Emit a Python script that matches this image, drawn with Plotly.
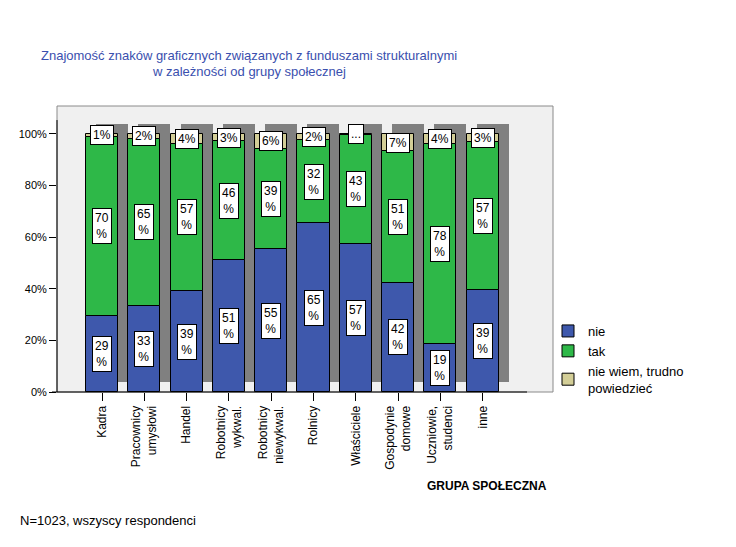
import plotly.graph_objects as go

# ---------------- data ----------------
categories = ["Kadra", "Pracownicy<br>umysłowi", "Handel", "Robotnicy<br>wykwal.",
              "Robotnicy<br>niewykwal.", "Rolnicy", "Właściciele", "Gospodynie<br>domowe",
              "Uczniowie,<br>studenci", "inne"]
nie = [29.4, 33.3, 39.1, 51.2, 55.4, 65.4, 57.2, 42.4, 18.7, 39.4]
tak = [69.6, 64.8, 57.2, 46.0, 38.8, 32.2, 42.6, 50.9, 77.6, 57.4]
nie_wiem = [1.0, 1.9, 3.7, 2.8, 5.8, 2.4, 0.2, 6.7, 3.7, 3.2]
series_names = ["nie", "tak", "nie wiem, trudno<br>powiedzieć"]
y_ticks = [0, 20, 40, 60, 80, 100]

# ---------------- style ----------------
colors = ["#3e58ac", "#2eb848", "#d3ce97"]
FONT = "Liberation Sans, Arial, sans-serif"
W = 0.757          # bar width (category units)
SHDX = 0.236       # shadow x shift (category units)
SHDY = 3.9         # shadow y shift (percent units)

n = len(categories)
xs = list(range(n))
totals = [a + b + c for a, b, c in zip(nie, tak, nie_wiem)]
base_tak = nie[:]
base_nw = [a + b for a, b in zip(nie, tak)]

fig = go.Figure()
# drop shadow
fig.add_bar(x=xs, y=totals, base=[SHDY] * n, width=W, offset=-W / 2 + SHDX,
            marker=dict(color="#808080", line=dict(width=0)), showlegend=False,
            hoverinfo="skip")
for vals, base, col, name in [(nie, [0] * n, colors[0], series_names[0]),
                              (tak, base_tak, colors[1], series_names[1]),
                              (nie_wiem, base_nw, colors[2], series_names[2])]:
    fig.add_bar(x=xs, y=vals, base=base, width=W, offset=-W / 2, name=name,
                marker=dict(color=col, line=dict(color="#000000", width=1)))

annotations = []
for i in xs:
    for vals, base, two_line in [(nie, [0] * n, True), (tak, base_tak, True),
                                 (nie_wiem, base_nw, False)]:
        v = vals[i]
        if two_line:
            txt = f"{v:.0f}<br>%"
        else:
            txt = f"{v:.0f}%" if v >= 0.5 else "..."
        annotations.append(dict(x=i, y=base[i] + v / 2, xref="x", yref="y", text=txt,
                                showarrow=False, bgcolor="#ffffff", bordercolor="#000000",
                                borderwidth=1, borderpad=2,
                                font=dict(family=FONT, size=12, color="#000000")))

# helpers: page pixel -> plot-area paper fraction
def px(p):
    return (p - 57) / 496


def py(p):
    return (392 - p) / 286


TITLE_C = "#3a4fae"
annotations += [
    dict(text="Znajomość znaków graficznych związanych z funduszami strukturalnymi",
         x=px(249), y=py(55), xref="paper", yref="paper", showarrow=False,
         xanchor="center", yanchor="middle",
         font=dict(family=FONT, size=13, color=TITLE_C)),
    dict(text="w zależności od grupy społecznej",
         x=px(249), y=py(71), xref="paper", yref="paper", showarrow=False,
         xanchor="center", yanchor="middle",
         font=dict(family=FONT, size=13, color=TITLE_C)),
    dict(text="<b>GRUPA SPOŁECZNA</b>", x=px(487), y=py(486),
         xref="paper", yref="paper", showarrow=False, xanchor="center", yanchor="middle",
         font=dict(family=FONT, size=12, color="#000000")),
    dict(text="N=1023, wszyscy respondenci", x=px(18), y=py(520),
         xref="paper", yref="paper", showarrow=False, xanchor="left", yanchor="middle",
         font=dict(family=FONT, size=13, color="#000000")),
]

shapes = [
    # plot frame (grey)
    dict(type="rect", xref="paper", yref="paper", x0=0, x1=1, y0=0, y1=1,
         line=dict(color="#8a8a8a", width=1), layer="below"),
    # y axis line
    dict(type="line", xref="paper", yref="y", x0=0, x1=0, y0=0, y1=105.4,
         line=dict(color="#000000", width=1)),
    # x axis line
    dict(type="line", xref="paper", yref="paper", x0=px(52), x1=px(527),
         y0=0, y1=0, line=dict(color="#000000", width=1)),
]

# the page body has an 8px margin; figure box is sized/margined to compensate
fig.update_layout(
    width=720, height=531, autosize=False,
    margin=dict(l=49, r=175, t=98, b=147, pad=0),
    paper_bgcolor="#ffffff", plot_bgcolor="#f0f0f0",
    barmode="overlay", bargap=0,
    font=dict(family=FONT, size=12, color="#000000"),
    annotations=annotations, shapes=shapes,
    legend=dict(x=px(548), y=py(316), xanchor="left", yanchor="top",
                font=dict(family=FONT, size=13, color="#000000"),
                bgcolor="rgba(0,0,0,0)", itemwidth=30, tracegroupgap=0),
    xaxis=dict(range=[-1.064, 10.662], tickmode="array", tickvals=xs, ticktext=categories,
               tickangle=-90, ticks="outside", ticklen=8, tickcolor="#000000",
               showgrid=False, zeroline=False, showline=False, automargin=False,
               tickfont=dict(family=FONT, size=12, color="#000000")),
    yaxis=dict(range=[0, 110.85], tickmode="array", tickvals=y_ticks,
               ticktext=[f"{t}%" for t in y_ticks], ticks="outside", ticklen=7,
               tickcolor="#000000", showgrid=False, zeroline=False, showline=False,
               automargin=False,
               tickfont=dict(family=FONT, size=11, color="#000000")),
)

fig.write_html("out.html")
